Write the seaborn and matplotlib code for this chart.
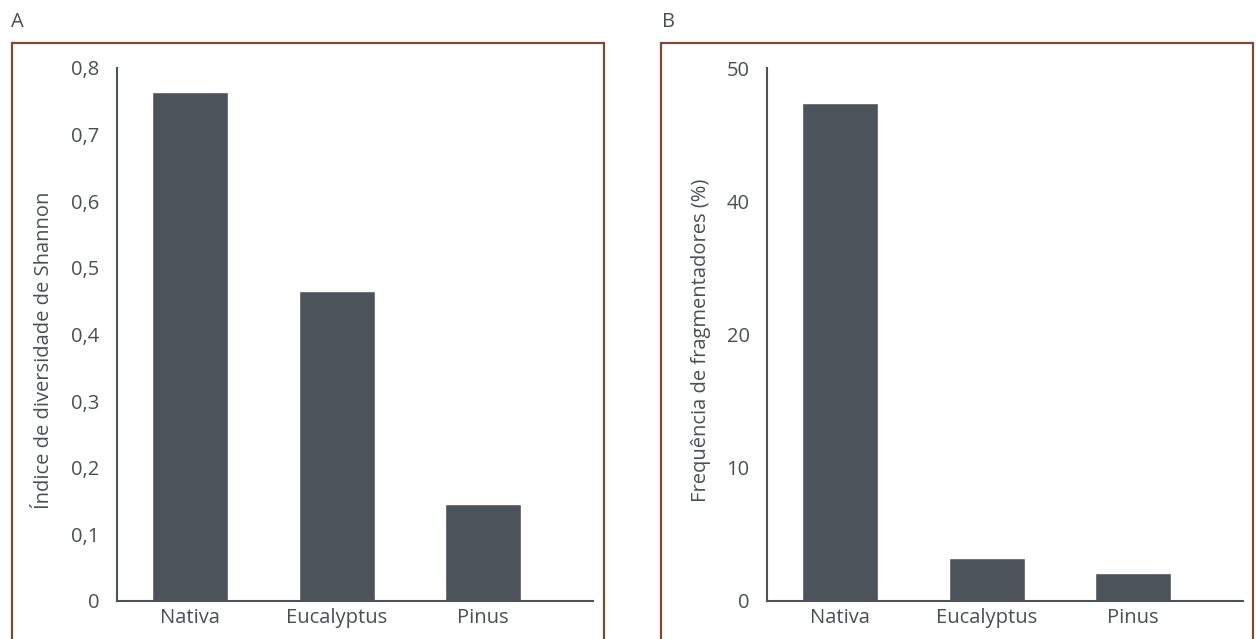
import numpy as np
import pandas as pd
import matplotlib
matplotlib.use("Agg")
import matplotlib.pyplot as plt
import seaborn as sns
from matplotlib.patches import Rectangle

# data
categorias = ["Nativa", "Eucalyptus", "Pinus"]
shannon = [0.764, 0.465, 0.146]
fragmentadores = [47.4, 3.2, 2.1]

shannon_ticks = [0, 0.1, 0.2, 0.3, 0.4, 0.5, 0.6, 0.7, 0.8]
shannon_labels = ["0", "0,1", "0,2", "0,3", "0,4", "0,5", "0,6", "0,7", "0,8"]
freq_ticks = [0, 10, 20, 40, 50]
freq_labels = ["0", "10", "20", "40", "50"]

sns.set_theme(style="white")
plt.rcParams["font.family"] = ["Open Sans", "DejaVu Sans"]

cinza = "#4d535a"
texto = "#4a4f56"
marrom = "#7d4a35"
fs = 14.5


def fwd(v):
    # the original axis skips 30: 0,10,20,40,50 are evenly spaced
    v = np.asarray(v, dtype=float)
    return np.where(v <= 20, v, np.where(v >= 30, v - 10, 20.0))


def inv(u):
    u = np.asarray(u, dtype=float)
    return np.where(u <= 20, u, u + 10)


fig = plt.figure(figsize=(12.56, 6.39), dpi=100)

# panel frames
for x0 in [12 / 1256, 661 / 1256]:
    fig.patches.append(Rectangle((x0, -0.1), 592 / 1256, 1.0327, transform=fig.transFigure,
                                 fill=False, edgecolor=marrom, linewidth=1.6, clip_on=False))
fig.text(11 / 1256, 1 - 22 / 639, "A", fontsize=fs, color=texto, va="center", ha="left")
fig.text(662 / 1256, 1 - 22 / 639, "B", fontsize=fs, color=texto, va="center", ha="left")

bottom = 1 - 601 / 639
height = (601 - 68) / 639
ax1 = fig.add_axes([117 / 1256, bottom, 476 / 1256, height])
ax2 = fig.add_axes([767 / 1256, bottom, 476 / 1256, height])

df1 = pd.DataFrame({"cat": categorias, "val": shannon})
df2 = pd.DataFrame({"cat": categorias, "val": fragmentadores})

sns.barplot(data=df1, x="cat", y="val", color=cinza, saturation=1, width=0.52, ax=ax1)
sns.barplot(data=df2, x="cat", y="val", color=cinza, saturation=1, width=0.52, ax=ax2)

ax2.set_yscale("function", functions=(fwd, inv))

for ax, ticks, labels, ylabel, lx, ly in [
    (ax1, shannon_ticks, shannon_labels, "Índice de diversidade de Shannon", -0.132, 0.47),
    (ax2, freq_ticks, freq_labels, "Frequência de fragmentadores (%)", -0.118, 0.49),
]:
    ax.set_ylim(ticks[0], ticks[-1])
    ax.set_yticks(ticks)
    ax.set_yticklabels(labels)
    ax.set_xlim(-0.5, 2.75)
    ax.set_xticks([-0.5, 0.5, 1.5, 2.75])
    ax.set_xticklabels([])
    ax.set_xticks([0, 1, 2], minor=True)
    ax.set_xticklabels(categorias, minor=True)
    ax.tick_params(axis="x", which="major", direction="out", length=4.5, width=1.5, color=cinza)
    ax.tick_params(axis="x", which="minor", length=0, pad=5, labelsize=fs, labelcolor=texto)
    ax.tick_params(axis="y", direction="out", length=4.5, width=1.5, color=cinza, pad=8,
                   labelsize=fs, labelcolor=texto)
    for s in ["top", "right"]:
        ax.spines[s].set_visible(False)
    for s in ["left", "bottom"]:
        ax.spines[s].set_color(cinza)
        ax.spines[s].set_linewidth(1.5)
    ax.set_xlabel("")
    ax.set_ylabel(ylabel, fontsize=fs, color=texto)
    ax.yaxis.set_label_coords(lx, ly)
    ax.set_facecolor("none")

fig.savefig("out.png", dpi=100, facecolor="white")
